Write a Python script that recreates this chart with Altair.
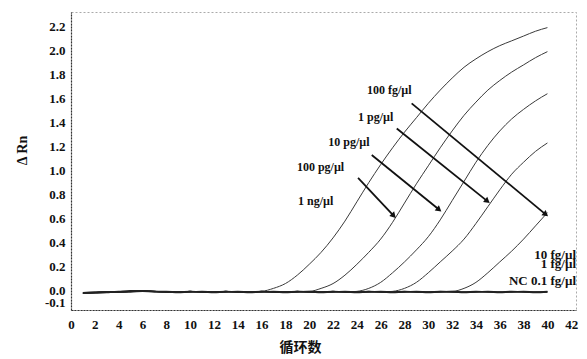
import math
import altair as alt
import pandas as pd

cycles = list(range(1, 41))

series_names = ["1 ng/µl", "100 pg/µl", "10 pg/µl", "1 pg/µl", "100 fg/µl", "10 fg/µl", "1 fg/µl", "NC 0.1 fg/µl"]

c_1ng = [-0.02, -0.015, -0.01, -0.01, -0.005, 0.0, -0.005, -0.01, -0.01, -0.005,
         -0.01, -0.01, -0.005, -0.01, -0.01, -0.005, 0.02, 0.06, 0.13, 0.22,
         0.32, 0.44, 0.58, 0.74, 0.9, 1.05, 1.19, 1.32, 1.44, 1.56,
         1.67, 1.77, 1.86, 1.93, 1.99, 2.04, 2.08, 2.12, 2.16, 2.19]
c_100pg = [-0.02, -0.015, -0.01, -0.01, -0.005, 0.0, -0.005, -0.01, -0.01, -0.005,
           -0.01, -0.01, -0.005, -0.01, -0.01, -0.005, -0.01, -0.01, -0.005, -0.005,
           0.02, 0.06, 0.13, 0.22, 0.32, 0.43, 0.57, 0.73, 0.89, 1.04,
           1.19, 1.33, 1.46, 1.57, 1.67, 1.75, 1.82, 1.88, 1.94, 1.99]
c_10pg = [-0.02, -0.015, -0.01, -0.01, -0.005, 0.0, -0.005, -0.01, -0.01, -0.005,
          -0.01, -0.01, -0.005, -0.01, -0.01, -0.005, -0.01, -0.01, -0.005, -0.01,
          -0.01, -0.005, -0.01, -0.005, 0.02, 0.07, 0.15, 0.24, 0.34, 0.45,
          0.59, 0.75, 0.91, 1.07, 1.21, 1.33, 1.43, 1.51, 1.58, 1.64]
c_1pg = [-0.02, -0.015, -0.01, -0.01, -0.005, 0.0, -0.005, -0.01, -0.01, -0.005,
         -0.01, -0.01, -0.005, -0.01, -0.01, -0.005, -0.01, -0.01, -0.005, -0.01,
         -0.01, -0.005, -0.01, -0.01, -0.005, -0.01, -0.005, 0.02, 0.07, 0.15,
         0.24, 0.33, 0.43, 0.56, 0.7, 0.84, 0.97, 1.07, 1.16, 1.23]
c_100fg = [-0.02, -0.015, -0.01, -0.01, -0.005, 0.0, -0.005, -0.01, -0.01, -0.005,
           -0.01, -0.01, -0.005, -0.01, -0.01, -0.005, -0.01, -0.01, -0.005, -0.01,
           -0.01, -0.005, -0.01, -0.01, -0.005, -0.01, -0.01, -0.005, -0.01, -0.01,
           -0.005, -0.005, 0.02, 0.07, 0.15, 0.24, 0.33, 0.43, 0.54, 0.65]
c_10fg = [-0.02, -0.015, -0.01, -0.01, -0.005, 0.0, -0.005, -0.01, -0.01, -0.005,
          -0.01, -0.01, -0.005, -0.01, -0.01, -0.005, -0.01, -0.01, -0.005, -0.01,
          -0.01, -0.005, -0.01, -0.01, -0.005, -0.01, -0.01, -0.005, -0.01, -0.01,
          -0.005, -0.01, -0.01, -0.005, -0.01, -0.01, -0.005, -0.01, -0.01, -0.005]
c_1fg = [-0.015, -0.01, -0.01, -0.005, 0.0, 0.0, -0.005, -0.005, -0.01, -0.01,
         -0.005, -0.01, -0.01, -0.005, -0.01, -0.01, -0.005, -0.01, -0.01, -0.005,
         -0.01, -0.01, -0.005, -0.01, -0.01, -0.005, -0.01, -0.01, -0.005, -0.01,
         -0.01, -0.005, -0.01, -0.01, -0.005, -0.01, -0.01, -0.005, -0.01, -0.01]
c_nc = [-0.02, -0.02, -0.015, -0.01, -0.01, -0.005, -0.01, -0.01, -0.015, -0.01,
        -0.01, -0.015, -0.01, -0.01, -0.015, -0.01, -0.01, -0.015, -0.01, -0.01,
        -0.015, -0.01, -0.01, -0.015, -0.01, -0.01, -0.015, -0.01, -0.01, -0.015,
        -0.01, -0.01, -0.015, -0.01, -0.01, -0.015, -0.01, -0.01, -0.015, -0.01]

all_series = [c_1ng, c_100pg, c_10pg, c_1pg, c_100fg, c_10fg, c_1fg, c_nc]

# arrow annotations (label -> curve)
arrow_x1 = [28.6, 27.35, 25.25, 24.1]
arrow_y1 = [1.56, 1.35, 1.13, 0.94]
arrow_x2 = [39.8, 34.9, 30.84, 27.04]
arrow_y2 = [0.64, 0.75, 0.68, 0.63]

left_labels = ["100 fg/µl", "1 pg/µl", "10 pg/µl", "100 pg/µl", "1 ng/µl"]
left_label_x = [24.85, 24.1, 21.6, 18.97, 19.06]
left_label_y = [1.67, 1.45, 1.24, 1.03, 0.75]

right_labels = ["10 fg/µl", "1 fg/µl", "NC 0.1 fg/µl"]
right_label_x = [42.4, 42.4, 42.4]
right_label_y = [0.30, 0.22, 0.085]

x_ticks = list(range(0, 43, 2))
y_ticks = [-0.1, 0.0, 0.2, 0.4, 0.6, 0.8, 1.0, 1.2, 1.4, 1.6, 1.8, 2.0, 2.2]

X_DOM = [0, 42.4]
Y_DOM = [-0.16, 2.32]
W, H = 505, 298

rows = []
for name, vals in zip(series_names, all_series):
    for c, v in zip(cycles, vals):
        rows.append({"series": name, "cycle": c, "value": v})
df = pd.DataFrame(rows)
amp = df[df["series"].isin(series_names[:5])]
flat = df[df["series"].isin(series_names[5:])]

pxx = W / (X_DOM[1] - X_DOM[0])
pxy = H / (Y_DOM[1] - Y_DOM[0])
angles = []
for a, b, c, d in zip(arrow_x1, arrow_y1, arrow_x2, arrow_y2):
    dx = (c - a) * pxx
    dy = (b - d) * pxy
    angles.append((math.degrees(math.atan2(dy, dx)) + 90) % 360)
arrows = pd.DataFrame({"x1": arrow_x1, "y1": arrow_y1, "x2": arrow_x2, "y2": arrow_y2, "ang": angles})
ltxt = pd.DataFrame({"t": left_labels, "x": left_label_x, "y": left_label_y})
rtxt = pd.DataFrame({"t": right_labels, "x": right_label_x, "y": right_label_y})

FONT = "Liberation Serif"
xs = alt.Scale(domain=X_DOM, nice=False, zero=False)
ys = alt.Scale(domain=Y_DOM, nice=False, zero=False)

x_axis = alt.Axis(values=x_ticks, title="循环数", titleFont="Noto Sans CJK SC", titleFontSize=14,
                  titleFontWeight="bold", titleX=229, titleY=37, titleAlign="center",
                  titleBaseline="middle", labelPadding=8, grid=False, ticks=False,
                  labelOverlap=False, labelFlush=False, labelSeparation=0)
y_axis = alt.Axis(values=y_ticks, format=".1f", labelExpr="replace(datum.label, '−', '-')",
                  title="Δ Rn", titleX=-49, titleY=138,
                  titleAlign="center", titleBaseline="middle", titleAngle=270,
                  titleFont=FONT, titleFontSize=14, titleFontWeight="bold", labelPadding=6,
                  grid=False, ticks=False, labelOverlap=False, labelFlush=False, labelSeparation=0)


def X(f):
    return alt.X(f, scale=xs, axis=x_axis)


def Y(f):
    return alt.Y(f, scale=ys, axis=y_axis)


lines = alt.Chart(amp).mark_line(strokeWidth=1, color="#3a3a3a", interpolate="monotone").encode(
    x=X("cycle:Q"), y=Y("value:Q"), detail="series:N",
)
flats = alt.Chart(flat).mark_line(strokeWidth=1.3, color="#222", interpolate="monotone").encode(
    x=X("cycle:Q"), y=Y("value:Q"), detail="series:N",
)
rules = alt.Chart(arrows).mark_rule(strokeWidth=1.8, color="#111").encode(
    x=X("x1:Q"), y=Y("y1:Q"), x2="x2:Q", y2="y2:Q"
)
heads = alt.Chart(arrows).mark_point(shape="triangle", filled=True, size=45, color="#111", opacity=1).encode(
    x=X("x2:Q"), y=Y("y2:Q"), angle=alt.Angle("ang:Q", scale=None)
)
ltext = alt.Chart(ltxt).mark_text(align="left", baseline="middle", font=FONT, fontSize=12,
                                  fontWeight="bold", color="#111").encode(
    x=X("x:Q"), y=Y("y:Q"), text="t:N"
)
rtext = alt.Chart(rtxt).mark_text(align="right", baseline="middle", font=FONT, fontSize=13,
                                  fontWeight="bold", color="#111").encode(
    x=X("x:Q"), y=Y("y:Q"), text="t:N"
)

chart = alt.layer(lines, flats, rules, heads, ltext, rtext).properties(
    width=W, height=H,
    background="white",
    autosize=alt.AutoSizeParams(type="none"),
    padding={"left": 63, "top": 4, "right": 3, "bottom": 47},
).configure_view(
    stroke="#aaa", strokeDash=[2, 2], strokeWidth=1
).configure_axis(
    grid=False, ticks=False, domainColor="#333", domainDash=[2, 1], domainWidth=1.2,
    labelFont=FONT, labelFontSize=13, labelFontWeight="bold", labelColor="#111",
    labelOverlap=False, labelFlush=False, titleColor="#111"
)

chart.save("out.html", embed_options={"renderer": "svg", "actions": False})
